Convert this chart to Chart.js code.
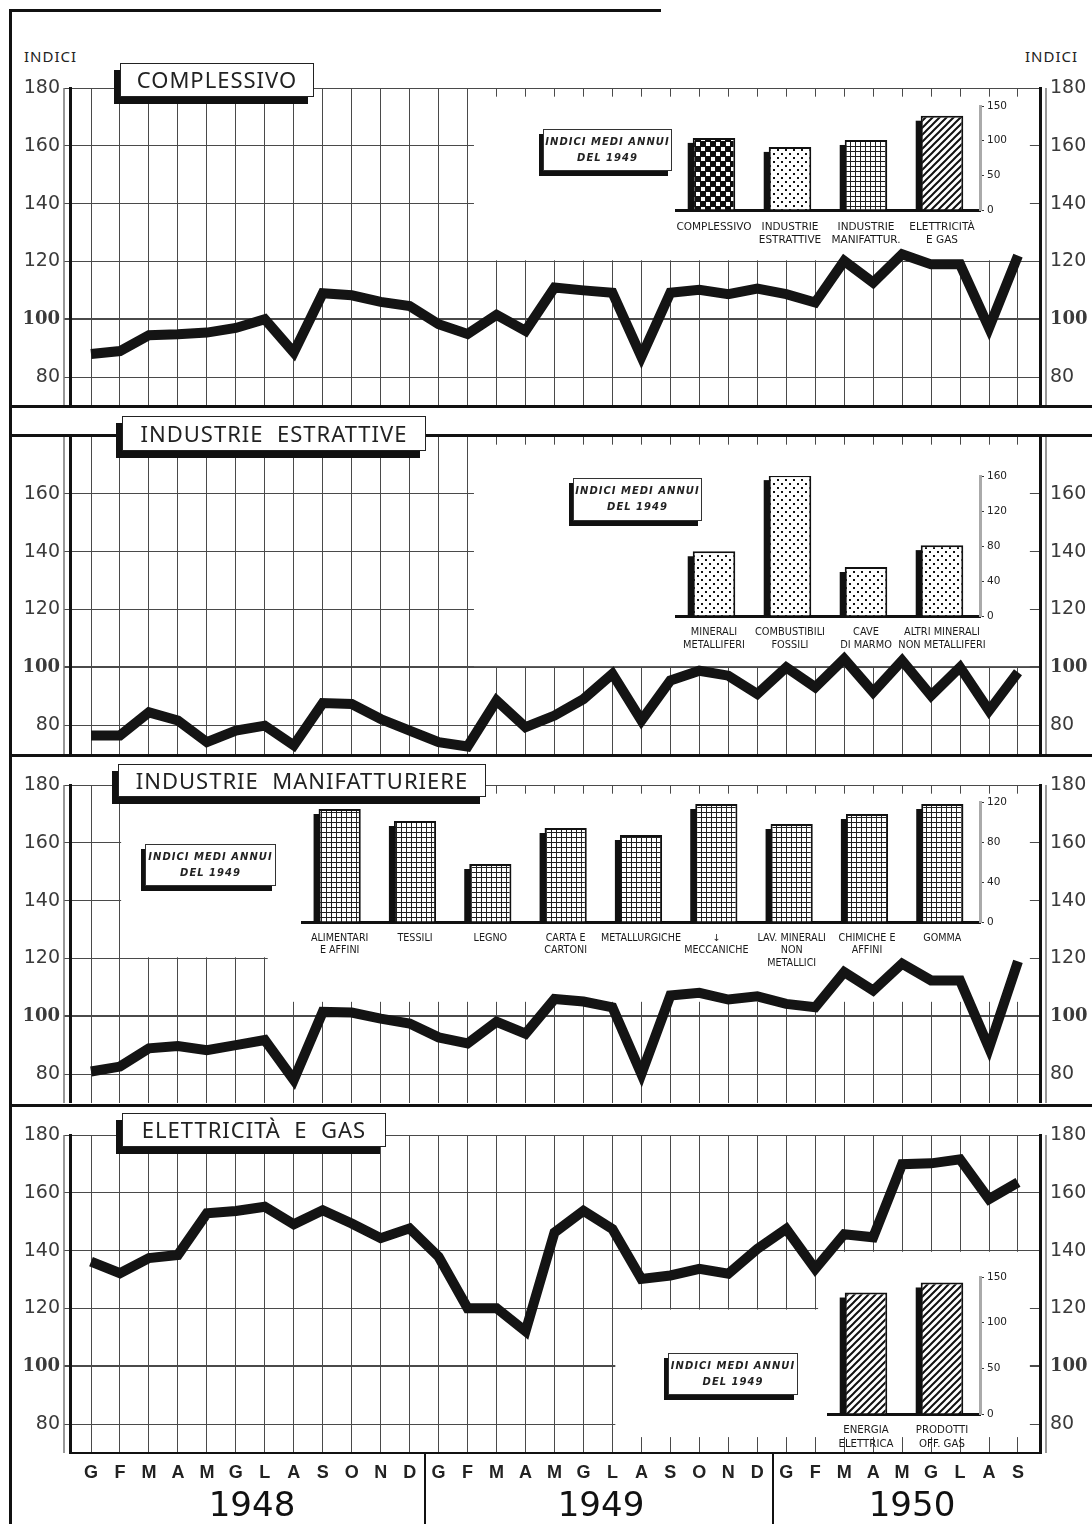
<!DOCTYPE html>
<html>
<head>
<meta charset="utf-8">
<script src="https://cdn.jsdelivr.net/npm/chart.js@4.4.1/dist/chart.umd.min.js"></script>
<style>
  body { margin: 0; background: #fff; }
  #page { position: relative; width: 1092px; height: 1524px; overflow: hidden; background: #fff; color: #111; font-family: "DejaVu Sans", sans-serif; }
  canvas { position: absolute; }
  .rule { position: absolute; background: #111; z-index: 4; }
  .title { position: absolute; z-index: 6; background: #fff; border: 1.5px solid #222; box-shadow: -6px 7px 0 #111;
           font: 22px "Noto Sans", sans-serif; letter-spacing: 1px; text-align: center; box-sizing: border-box; white-space: nowrap; color: #222; }
  .note { position: absolute; z-index: 6; background: #fff; border: 1px solid #333; box-shadow: -4px 5px 0 #111;
          font: italic bold 10px "DejaVu Sans", sans-serif; letter-spacing: 1px; text-align: center; line-height: 16px;
          padding-top: 4px; box-sizing: border-box; color: #222; }
  .txt { position: absolute; z-index: 6; white-space: nowrap; color: #222; }
</style>
</head>
<body>
<div id="page">
  <canvas id="p1"></canvas>
  <canvas id="p2"></canvas>
  <canvas id="p3"></canvas>
  <canvas id="p4"></canvas>
  <canvas id="i1"></canvas>
  <canvas id="i2"></canvas>
  <canvas id="i3"></canvas>
  <canvas id="i4"></canvas>

  <!-- cornice e separatori -->
  <div class="rule" style="left:9px;top:9px;width:3px;height:1515px"></div>
  <div class="rule" style="left:9px;top:9px;width:652px;height:3px"></div>
  <div class="rule" style="left:9px;top:405px;width:1083px;height:3px"></div>
  <div class="rule" style="left:9px;top:434px;width:1083px;height:3px"></div>
  <div class="rule" style="left:9px;top:754px;width:1083px;height:3px"></div>
  <div class="rule" style="left:9px;top:1104px;width:1083px;height:3px"></div>
  <div class="rule" style="left:424px;top:1454px;width:2px;height:70px"></div>
  <div class="rule" style="left:772px;top:1454px;width:2px;height:70px"></div>

  <div class="txt" style="left:24px;top:46px;font:15px 'Noto Sans',sans-serif;letter-spacing:1px">INDICI</div>
  <div class="txt" style="left:1025px;top:46px;font:15px 'Noto Sans',sans-serif;letter-spacing:1px">INDICI</div>

  <div class="title" style="left:120px;top:63px;width:194px;height:34px;line-height:31px">COMPLESSIVO</div>
  <div class="title" style="left:122px;top:416px;width:304px;height:35px;line-height:32px">INDUSTRIE&nbsp; ESTRATTIVE</div>
  <div class="title" style="left:118px;top:764px;width:368px;height:33px;line-height:30px">INDUSTRIE&nbsp; MANIFATTURIERE</div>
  <div class="title" style="left:122px;top:1113px;width:264px;height:34px;line-height:31px">ELETTRICITÀ&nbsp; E&nbsp; GAS</div>

  <div class="note" style="left:543px;top:129px;width:129px;height:42px">INDICI MEDI ANNUI<br>DEL 1949</div>
  <div class="note" style="left:573px;top:478px;width:129px;height:43px">INDICI MEDI ANNUI<br>DEL 1949</div>
  <div class="note" style="left:145px;top:844px;width:131px;height:42px">INDICI MEDI ANNUI<br>DEL 1949</div>
  <div class="note" style="left:668px;top:1353px;width:130px;height:42px">INDICI MEDI ANNUI<br>DEL 1949</div>

  <div id="years"></div>
</div>

<script>
/* ===== DATI ===== */
const months = ["G","F","M","A","M","G","L","A","S","O","N","D",
                "G","F","M","A","M","G","L","A","S","O","N","D",
                "G","F","M","A","M","G","L","A","S"];
const years = ["1948", "1949", "1950"];
const yTicks = [80, 100, 120, 140, 160, 180];

const complessivo = [88, 89, 94.5, 94.8, 95.4, 97, 100, 88.5, 109, 108.3, 106, 104.6,
                     98.3, 94.9, 101.5, 96, 111, 110, 109.2, 87, 109.2, 110.2, 108.7, 110.6,
                     108.7, 105.8, 120.2, 112.7, 122.5, 119, 119, 97, 122];
const estrattive = [76.4, 76.4, 84.4, 81.6, 74.1, 78.1, 79.8, 73, 87.6, 87.3, 82.1, 78.1,
                    74.1, 72.6, 88.5, 79.3, 83.3, 89, 97.7, 81.6, 95.4, 98.8, 97.1, 90.8,
                    100, 93.1, 102.9, 91.4, 102.3, 90.2, 100, 85, 98.3];
const manifatturiere = [80.9, 82.6, 88.9, 89.7, 88.3, 90, 91.8, 78, 101.5, 101.3, 99.2, 97.5,
                        92.7, 90.6, 98.1, 94, 106, 105.1, 103.1, 80, 107.2, 108.1, 105.8, 106.9,
                        104.3, 103.1, 115.3, 108.9, 118.2, 112.4, 112.4, 89, 119];
const elettricita = [136.2, 132.2, 137.4, 138.5, 152.9, 153.7, 155.2, 149.1, 154, 149.4, 144.3, 147.7,
                     137.9, 120.1, 120.1, 112.1, 146.3, 153.8, 147.5, 130.2, 131.4, 133.7, 132, 140.6,
                     147.5, 133.7, 145.7, 144.6, 169.9, 170.2, 171.6, 157.8, 163.6];

// indici medi annui del 1949 (riquadri)
const settoriLabels = [["COMPLESSIVO"], ["INDUSTRIE", "ESTRATTIVE"], ["INDUSTRIE", "MANIFATTUR."], ["ELETTRICITÀ", "E GAS"]];
const settoriValori = [104, 91, 101, 136];
const settoriTicks = [0, 50, 100, 150];

const estrattiveLabels = [["MINERALI", "METALLIFERI"], ["COMBUSTIBILI", "FOSSILI"], ["CAVE", "DI MARMO"], ["ALTRI MINERALI", "NON METALLIFERI"]];
const estrattiveValori = [74, 161, 56, 81];
const estrattiveTicks = [0, 40, 80, 120, 160];

const manifLabels = [["ALIMENTARI", "E AFFINI"], ["TESSILI"], ["LEGNO"], ["CARTA E", "CARTONI"], ["METALLURGICHE"],
                     ["↓", "MECCANICHE"], ["LAV. MINERALI", "NON", "METALLICI"], ["CHIMICHE E", "AFFINI"], ["GOMMA"]];
const manifValori = [113, 101, 58, 94, 87, 118, 98, 108, 118];
const manifTicks = [0, 40, 80, 120];

const elettrLabels = [["ENERGIA", "ELETTRICA"], ["PRODOTTI", "OFF. GAS"]];
const elettrValori = [133, 144];
const elettrTicks = [0, 50, 100, 150];

/* ===== LAYOUT ===== */
const X_MIN = -0.725, X_MAX = 32.76;
const AREA_H = 318;
const GRID = "#4a4a4a";
const SMALL_FONT = "'DejaVu Sans',sans-serif";

// fondo bianco dei riquadri (in unità dei dati) + doppia linea degli assi
function maskPlugin(rects) {
  return {
    id: "mask",
    beforeDatasetsDraw(chart) {
      const { ctx, scales: { x, y }, chartArea: a } = chart;
      ctx.save();
      ctx.fillStyle = "#fff";
      rects.forEach((r) => {
        const px0 = x.getPixelForValue(r.x0), px1 = x.getPixelForValue(r.x1);
        const py0 = y.getPixelForValue(r.y1), py1 = y.getPixelForValue(r.y0);
        ctx.fillRect(px0, py0, px1 - px0, py1 - py0);
      });
      ctx.strokeStyle = "#777";
      ctx.lineWidth = 1.5;
      ctx.beginPath();
      ctx.moveTo(a.left - 6, a.top); ctx.lineTo(a.left - 6, a.bottom);
      ctx.moveTo(a.right + 6, a.top); ctx.lineTo(a.right + 6, a.bottom);
      ctx.stroke();
      ctx.restore();
    },
  };
}

// larghezza fissa e nessun margine automatico per le etichette
function fixBox(w, h) {
  return (s) => {
    if (w !== null) s.width = w;
    if (h !== null) s.height = h;
    s.paddingTop = 0; s.paddingBottom = 0; s.paddingLeft = 0; s.paddingRight = 0;
  };
}

function yAxis(pos, width, hide180) {
  const left = pos === "left";
  return {
    position: pos,
    min: 70,
    max: 180,
    afterBuildTicks: (s) => { s.ticks = yTicks.map((v) => ({ value: v })); },
    afterFit: fixBox(width, null),
    grid: {
      drawOnChartArea: left,
      drawTicks: left,
      tickLength: 6,
      color: GRID,
      lineWidth: (c) => (c.tick && c.tick.value === 100 ? 2 : 1),
    },
    border: { display: true, width: 3, color: "#111" },
    ticks: {
      padding: left ? 4 : 10,
      color: "#3a3a3a",
      font: (c) => c.tick && c.tick.value === 100
        ? { family: "'DejaVu Serif',serif", weight: "bold", size: 18 }
        : { family: "'DejaVu Sans',sans-serif", size: 19 },
      callback: (v) => (hide180 && v === 180 ? "" : String(v)),
    },
  };
}

function panel(id, top, values, o) {
  const cv = document.getElementById(id);
  const padTop = 12, xH = o.months ? 46 : 0;
  cv.width = 1092;
  cv.height = padTop + AREA_H + xH;
  cv.style.left = "0px";
  cv.style.top = top - padTop + "px";

  return new Chart(cv, {
    type: "line",
    data: {
      datasets: [{
        data: values.map((v, i) => ({ x: i, y: v })),
        borderColor: "#141414",
        borderWidth: 10,
        borderJoinStyle: "miter",
        borderCapStyle: "butt",
        tension: 0,
        pointRadius: 0,
        fill: false,
      }],
    },
    options: {
      responsive: false,
      animation: false,
      events: [],
      layout: { padding: { top: padTop, left: 0, right: 0, bottom: 0 } },
      plugins: { legend: { display: false }, tooltip: { enabled: false } },
      scales: {
        x: {
          type: "linear",
          min: X_MIN,
          max: X_MAX,
          afterBuildTicks: (s) => { s.ticks = months.map((m, i) => ({ value: i })); },
          afterFit: fixBox(null, xH),
          grid: { color: GRID, lineWidth: 1, drawTicks: false },
          border: { display: !!o.months, width: 2, color: "#111" },
          ticks: {
            display: !!o.months,
            autoSkip: false,
            maxRotation: 0,
            padding: 9,
            color: "#222",
            font: { family: "'Liberation Sans',sans-serif", weight: "bold", size: 18 },
            callback: (v) => months[v],
          },
        },
        y: yAxis("left", 70, o.hide180),
        y2: yAxis("right", 52, o.hide180),
      },
    },
    plugins: [maskPlugin(o.masks)],
  });
}

panel("p1", 88, complessivo, {
  masks: [{ x0: 13.22, x1: 32.41, y0: 120.4, y1: 177 }],
});
panel("p2", 436, estrattive, {
  hide180: true,
  masks: [{ x0: 13.22, x1: 32.41, y0: 100.4, y1: 177 }],
});
panel("p3", 785, manifatturiere, {
  masks: [
    { x0: 1.04, x1: 32.41, y0: 120.4, y1: 177 },
    { x0: 6.1, x1: 32.41, y0: 105, y1: 120.6 },
  ],
});
panel("p4", 1135, elettricita, {
  months: true,
  masks: [
    { x0: 18.1, x1: 32.41, y0: 75.5, y1: 119.6 },
    { x0: 25.1, x1: 32.41, y0: 119.4, y1: 139.6 },
  ],
});

/* ===== RIQUADRI A BARRE ===== */
function makePattern(kind) {
  const c = document.createElement("canvas");
  const g = c.getContext("2d");
  if (kind === "checker") {
    c.width = c.height = 10;
    g.fillStyle = "#111"; g.fillRect(0, 0, 10, 10);
    g.fillStyle = "#fff"; g.fillRect(1, 1, 4, 4); g.fillRect(6, 6, 4, 4);
  } else if (kind === "dots") {
    c.width = c.height = 8;
    g.fillStyle = "#fff"; g.fillRect(0, 0, 8, 8);
    g.fillStyle = "#111"; g.fillRect(1, 1, 2, 2); g.fillRect(5, 5, 2, 2);
  } else if (kind === "grid") {
    c.width = c.height = 5;
    g.fillStyle = "#fff"; g.fillRect(0, 0, 5, 5);
    g.fillStyle = "#222"; g.fillRect(0, 0, 5, 1); g.fillRect(0, 0, 1, 5);
  } else {
    c.width = c.height = 7;
    g.fillStyle = "#fff"; g.fillRect(0, 0, 7, 7);
    g.strokeStyle = "#111"; g.lineWidth = 2;
    g.beginPath();
    g.moveTo(-1, 8); g.lineTo(8, -1);
    g.moveTo(-1, 1); g.lineTo(1, -1);
    g.moveTo(6, 8); g.lineTo(8, 6);
    g.stroke();
  }
  return g.createPattern(c, "repeat");
}

const barShadow = {
  id: "barShadow",
  beforeDatasetsDraw(chart) {
    const ctx = chart.ctx;
    ctx.save();
    ctx.fillStyle = "#111";
    chart.getDatasetMeta(0).data.forEach((b) => {
      const p = b.getProps(["x", "y", "base", "width"], true);
      ctx.fillRect(p.x - p.width / 2 - 5, p.y + 5, 7, p.base - p.y - 5);
    });
    ctx.restore();
  },
};

function inset(id, area, labels, values, ticks, fills, fontSize) {
  const cv = document.getElementById(id);
  const padL = 16, padT = 10, yW = 40, xH = 52;
  cv.width = area.r - area.l + padL + yW;
  cv.height = area.b - area.t + padT + xH;
  cv.style.left = area.l - padL + "px";
  cv.style.top = area.t - padT + "px";
  cv.style.zIndex = 3;

  return new Chart(cv, {
    type: "bar",
    data: {
      labels,
      datasets: [{
        data: values,
        backgroundColor: fills,
        borderColor: "#111",
        borderWidth: 2,
        barPercentage: 0.56,
        categoryPercentage: 1,
      }],
    },
    options: {
      responsive: false,
      animation: false,
      events: [],
      layout: { padding: { left: padL, top: padT, right: 0, bottom: 0 } },
      plugins: { legend: { display: false }, tooltip: { enabled: false } },
      scales: {
        x: {
          afterFit: fixBox(null, xH),
          grid: { display: false },
          border: { display: true, width: 3, color: "#111" },
          ticks: {
            autoSkip: false,
            maxRotation: 0,
            padding: 2,
            color: "#1a1a1a",
            font: { family: SMALL_FONT, size: fontSize, lineHeight: 1.3 },
          },
        },
        y: {
          position: "right",
          min: 0,
          max: ticks[ticks.length - 1],
          afterBuildTicks: (s) => { s.ticks = ticks.map((v) => ({ value: v })); },
          afterFit: fixBox(yW, null),
          grid: { drawOnChartArea: false, drawTicks: true, tickLength: 4, color: "#333" },
          border: { display: true, width: 3, color: "#aaa" },
          ticks: { padding: 3, color: "#222", font: { family: "'DejaVu Sans',sans-serif", size: 10.5 } },
        },
      },
    },
    plugins: [barShadow],
  });
}

inset("i1", { l: 676, r: 980, t: 106, b: 210 }, settoriLabels, settoriValori, settoriTicks,
  [makePattern("checker"), makePattern("dots"), makePattern("grid"), makePattern("hatch")], 10.5);
inset("i2", { l: 676, r: 980, t: 476, b: 616 }, estrattiveLabels, estrattiveValori, estrattiveTicks,
  makePattern("dots"), 9.8);
inset("i3", { l: 302, r: 980, t: 802, b: 922 }, manifLabels, manifValori, manifTicks,
  makePattern("grid"), 9.6);
inset("i4", { l: 828, r: 980, t: 1277, b: 1414 }, elettrLabels, elettrValori, elettrTicks,
  makePattern("hatch"), 10.2);

/* ===== ANNI ===== */
const yearCenters = [252, 601, 912];
document.getElementById("years").innerHTML = years
  .map((y, i) => `<div class="txt" style="left:${yearCenters[i] - 60}px;top:1484px;width:120px;text-align:center;font:34px 'DejaVu Sans',sans-serif;color:#111">${y}</div>`)
  .join("");
</script>
</body>
</html>
